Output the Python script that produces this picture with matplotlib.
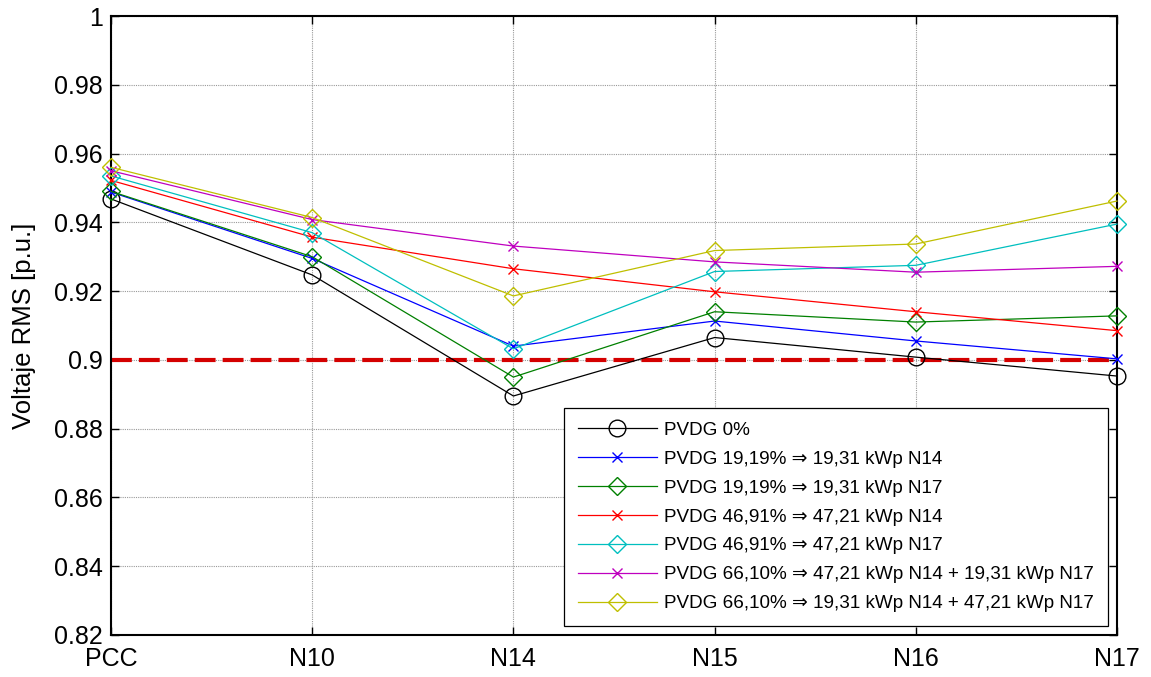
import numpy as np
import matplotlib
matplotlib.use("Agg")
import matplotlib.pyplot as plt

plt.rcParams['font.family'] = ['Liberation Sans', 'DejaVu Sans']

# Nodes along the feeder
nodes = ["PCC", "N10", "N14", "N15", "N16", "N17"]

# RMS voltage per scenario [p.u.]
v_pvdg_0 = [0.9468, 0.9247, 0.8895, 0.9065, 0.9008, 0.8953]
v_19_n14 = [0.9488, 0.9295, 0.9040, 0.9113, 0.9055, 0.9003]
v_19_n17 = [0.9490, 0.9300, 0.8950, 0.9140, 0.9110, 0.9128]
v_47_n14 = [0.9522, 0.9357, 0.9265, 0.9198, 0.9140, 0.9085]
v_47_n17 = [0.9535, 0.9370, 0.9032, 0.9257, 0.9275, 0.9395]
v_66_a   = [0.9550, 0.9408, 0.9331, 0.9285, 0.9255, 0.9272]
v_66_b   = [0.9560, 0.9414, 0.9186, 0.9318, 0.9337, 0.9462]

labels = [
    "PVDG 0%",
    "PVDG 19,19% \u21d2 19,31 kWp N14",
    "PVDG 19,19% \u21d2 19,31 kWp N17",
    "PVDG 46,91% \u21d2 47,21 kWp N14",
    "PVDG 46,91% \u21d2 47,21 kWp N17",
    "PVDG 66,10% \u21d2 47,21 kWp N14 + 19,31 kWp N17",
    "PVDG 66,10% \u21d2 19,31 kWp N14 + 47,21 kWp N17",
]
series = [v_pvdg_0, v_19_n14, v_19_n17, v_47_n14, v_47_n17, v_66_a, v_66_b]
colors = ['k', '#0000ff', '#008000', '#ff0000', '#00bfbf', '#bf00bf', '#bfbf00']
markers = ['o', 'x', 'D', 'x', 'D', 'x', 'D']
limit = 0.9

fig = plt.figure(figsize=(11.51, 6.77), dpi=100)
ax = fig.add_axes([111/1151, 1 - 635/677, (1117 - 111)/1151, (635 - 16)/677])

x = np.arange(len(nodes))
for vals, col, mk, lab in zip(series, colors, markers, labels):
    if mk == 'o':
        ms = 12
    elif mk == 'D':
        ms = 8.7
    else:
        ms = 7
    ax.plot(x, vals, color=col, marker=mk, markersize=ms, markerfacecolor='none',
            markeredgecolor=col, linewidth=0.9, markeredgewidth=1.0, label=lab,
            clip_on=False, zorder=3)

# voltage limit
ax.axhline(limit, color='#d40000', linestyle=(0, (5, 1.7)), linewidth=3, zorder=2)

ax.set_xlim(0, len(nodes) - 1)
ax.set_ylim(0.82, 1.0)
ax.set_xticks(x)
ax.set_xticklabels(nodes)
ax.set_yticks(np.arange(0.82, 1.001, 0.02))
ax.set_yticklabels(["0.82", "0.84", "0.86", "0.88", "0.9", "0.92", "0.94",
                    "0.96", "0.98", "1"])
ax.tick_params(direction='in', length=6, width=1, labelsize=18,
               top=True, right=True)
ax.tick_params(axis='x', pad=9)
ax.tick_params(axis='y', pad=6)
ax.grid(True, color='#999999', linestyle=(0, (1, 1)), linewidth=0.8)
for sp in ax.spines.values():
    sp.set_linewidth(1.5)
ax.set_ylabel("Voltaje RMS [p.u.]", fontsize=18.5, labelpad=13)

leg = ax.legend(loc='lower right', fontsize=13.6, handlelength=4.2,
                frameon=True, fancybox=False, framealpha=1, edgecolor='k',
                borderaxespad=0.5, labelspacing=0.62, handletextpad=0.4,
                borderpad=0.7)
leg.get_frame().set_linewidth(0.9)

fig.savefig("out.png", dpi=100)
